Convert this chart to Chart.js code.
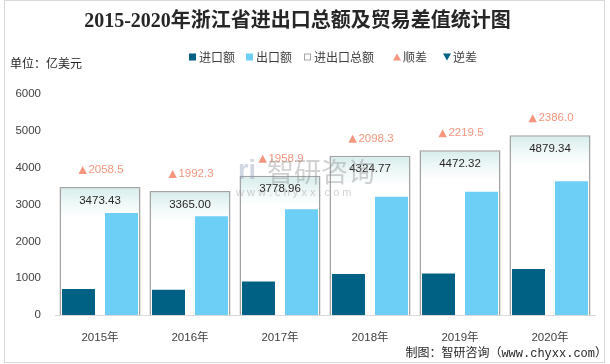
<!DOCTYPE html>
<html lang="zh">
<head>
<meta charset="UTF-8">
<title>浙江省进出口总额及贸易差值</title>
<script src="https://cdn.jsdelivr.net/npm/chart.js@4.4.0/dist/chart.umd.min.js"></script>
<style>
  body { margin: 0; background: #fff; }
  #wrap { width: 610px; height: 364px; position: relative; }
</style>
</head>
<body>
<div id="wrap"><canvas id="chart" width="610" height="364"></canvas></div>

<script>
    // data (亿美元)
    const years = ['2015年', '2016年', '2017年', '2018年', '2019年', '2020年'];
    const importAmt = [707.47, 686.35, 910.03, 1113.24, 1126.41, 1246.67];
    const exportAmt = [2765.97, 2678.65, 2868.93, 3211.54, 3345.91, 3632.67];
    const totalAmt = [3473.43, 3365.00, 3778.96, 4324.77, 4472.32, 4879.34];
    const surplus = [2058.5, 1992.3, 1958.9, 2098.3, 2219.5, 2386.0];
    const deficit = [];

    const C_IMPORT = '#006185';
    const C_EXPORT = '#6DCFF6';
    const C_TOTAL_BORDER = '#a3a3a3';
    const C_SURPLUS = '#F4967E';
    const C_DEFICIT = '#006185';

    const NUM_FONT = '"Liberation Sans", "Noto Sans CJK SC", sans-serif';
    const CJK_FONT = '"Noto Sans CJK SC", "Liberation Sans", sans-serif';

    function drawTriangle(ctx, x, y, w, h, down) {
        ctx.beginPath();
        if (down) {
            ctx.moveTo(x, y - h / 2);
            ctx.lineTo(x + w, y - h / 2);
            ctx.lineTo(x + w / 2, y + h / 2);
        } else {
            ctx.moveTo(x + w / 2, y - h / 2);
            ctx.lineTo(x + w, y + h / 2);
            ctx.lineTo(x, y + h / 2);
        }
        ctx.closePath();
        ctx.fill();
    }

    // frame, legend, labels, watermark
    const decorPlugin = {
        id: 'decor',
        beforeDraw(chart) {
            const ctx = chart.ctx;
            ctx.save();
            ctx.fillStyle = '#fff';
            ctx.fillRect(0, 0, chart.width, chart.height);
            ctx.strokeStyle = '#d9d9d9';
            ctx.lineWidth = 1;
            ctx.strokeRect(4.5, 0.5, 600, 362);
            ctx.restore();
        },
        afterDatasetsDraw(chart) {
            const ctx = chart.ctx;
            const totalMeta = chart.getDatasetMeta(2);
            ctx.save();
            ctx.textBaseline = 'middle';
            totalMeta.data.forEach((bar, i) => {
                // total value inside the bar
                ctx.fillStyle = '#262626';
                ctx.font = '11.5px ' + NUM_FONT;
                ctx.textAlign = 'center';
                ctx.fillText(totalAmt[i].toFixed(2), bar.x, bar.y + 13.5);

                // surplus marker above the bar
                const txt = surplus[i].toFixed(1);
                const w = ctx.measureText(txt).width;
                const full = 10 + w;
                const x0 = bar.x - full / 2 + 1;
                const yc = bar.y - 17;
                ctx.fillStyle = C_SURPLUS;
                drawTriangle(ctx, x0, yc, 8.5, 8, false);
                ctx.textAlign = 'left';
                ctx.fillText(txt, x0 + 10, yc);
            });
            ctx.restore();
        },
        afterDraw(chart) {
            const ctx = chart.ctx;
            ctx.save();

            // unit
            ctx.fillStyle = '#262626';
            ctx.font = '12px ' + CJK_FONT;
            ctx.textBaseline = 'middle';
            ctx.textAlign = 'left';
            ctx.fillText('单位：亿美元', 10, 63);

            // legend
            const items = [
                {x: 189, text: '进口额', kind: 'box', color: C_IMPORT},
                {x: 246, text: '出口额', kind: 'box', color: C_EXPORT},
                {x: 304, text: '进出口总额', kind: 'empty', color: C_TOTAL_BORDER},
                {x: 393, text: '顺差', kind: 'up', color: C_SURPLUS},
                {x: 443, text: '逆差', kind: 'down', color: C_DEFICIT}
            ];
            const ly = 57;
            items.forEach(it => {
                ctx.fillStyle = it.color;
                if (it.kind === 'box') {
                    ctx.fillRect(it.x, ly - 3.5, 7, 7);
                } else if (it.kind === 'empty') {
                    ctx.strokeStyle = it.color;
                    ctx.lineWidth = 1;
                    ctx.strokeRect(it.x + 0.5, ly - 3, 6, 6);
                } else {
                    drawTriangle(ctx, it.x, ly, 8, 7, it.kind === 'down');
                }
                ctx.fillStyle = '#404040';
                ctx.fillText(it.text, it.x + 10, ly);
            });

            // source
            ctx.font = '12px "Liberation Mono", "Noto Sans CJK SC", monospace';
            ctx.textAlign = 'right';
            ctx.fillStyle = '#262626';
            ctx.fillText('制图：智研咨询（www.chyxx.com）', 607, 354);

            // watermark
            ctx.globalAlpha = 0.4;
            ctx.fillStyle = '#8a9cb8';
            ctx.font = 'bold 27px ' + NUM_FONT;
            ctx.textAlign = 'left';
            ctx.fillText('ri', 238, 172);
            ctx.fillStyle = '#8c8c8c';
            ctx.font = '27px ' + CJK_FONT;
            ctx.fillText('智研咨询', 267, 172);
            ctx.font = '11px ' + NUM_FONT;
            ctx.fillText('w w w . c h y x x . c o m', 236, 193);
            ctx.restore();
        }
    };

    const ctx = document.getElementById('chart').getContext('2d');
    const chart = new Chart(ctx, {
        data: {
            labels: years,
            datasets: [
                {
                    type: 'bar',
                    label: '进口额',
                    data: importAmt,
                    backgroundColor: C_IMPORT,
                    categoryPercentage: 0.956,
                    barPercentage: 0.767,
                    order: 2
                },
                {
                    type: 'bar',
                    label: '出口额',
                    data: exportAmt,
                    backgroundColor: C_EXPORT,
                    categoryPercentage: 0.956,
                    barPercentage: 0.767,
                    order: 2
                },
                {
                    type: 'bar',
                    label: '进出口总额',
                    data: totalAmt,
                    grouped: false,
                    categoryPercentage: 0.9,
                    barPercentage: 1,
                    borderColor: C_TOTAL_BORDER,
                    borderWidth: 1.5,
                    backgroundColor: function (c) {
                        const area = c.chart.chartArea;
                        if (!area || c.dataIndex === undefined) return '#ffffff';
                        const top = c.chart.scales.y.getPixelForValue(totalAmt[c.dataIndex]);
                        const g = c.chart.ctx.createLinearGradient(0, top, 0, top + 30);
                        g.addColorStop(0, '#d6ecec');
                        g.addColorStop(0.5, '#eef7f7');
                        g.addColorStop(1, '#ffffff');
                        return g;
                    },
                    order: 3
                },
                {
                    type: 'line',
                    label: '顺差',
                    data: surplus,
                    showLine: false,
                    pointRadius: 0,
                    order: 1
                },
                {
                    type: 'line',
                    label: '逆差',
                    data: deficit,
                    showLine: false,
                    pointRadius: 0,
                    order: 1
                }
            ]
        },
        options: {
            responsive: false,
            animation: false,
            devicePixelRatio: 1,
            layout: {
                padding: {left: 0, right: 15, top: 0, bottom: 0}
            },
            plugins: {
                legend: {display: false},
                tooltip: {enabled: false},
                title: {
                    display: true,
                    text: '2015-2020年浙江省进出口总额及贸易差值统计图',
                    color: '#262626',
                    font: {family: '"Liberation Serif", "Noto Sans CJK SC", serif', size: 20, weight: 'bold'},
                    padding: {top: 10, bottom: 60}
                }
            },
            scales: {
                x: {
                    offset: true,
                    grid: {display: false, drawTicks: false},
                    border: {display: true, color: '#d9d9d9', width: 1},
                    ticks: {
                        color: '#404040',
                        padding: 16,
                        maxRotation: 0,
                        font: {family: NUM_FONT, size: 11.5}
                    },
                    afterFit: function (scale) { scale.height = 49; }
                },
                y: {
                    min: 0,
                    max: 6000,
                    grid: {display: false, drawTicks: false},
                    border: {display: false},
                    ticks: {
                        stepSize: 1000,
                        color: '#404040',
                        padding: 14,
                        font: {family: NUM_FONT, size: 11.5},
                        callback: function (v) { return String(v); }
                    },
                    afterFit: function (scale) { scale.width = 55; }
                }
            }
        },
        plugins: [decorPlugin]
    });
</script>
</body>
</html>
